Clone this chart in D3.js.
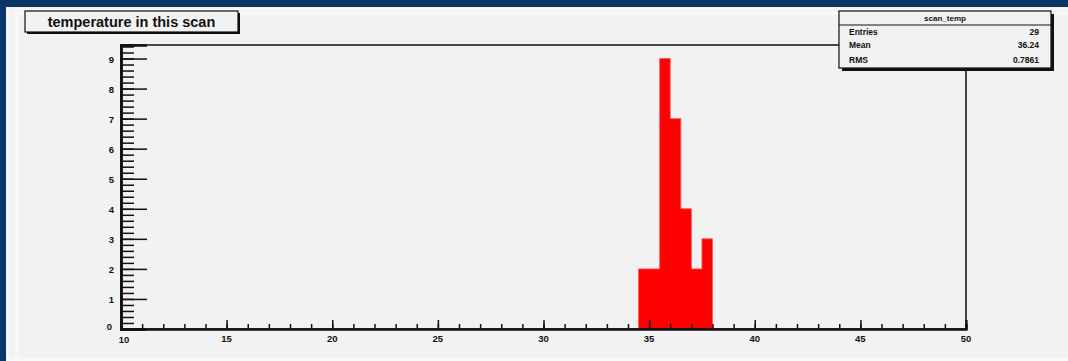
<!DOCTYPE html>
<html><head><meta charset="utf-8">
<script src="https://cdn.jsdelivr.net/npm/d3@7"></script>
<style>
html,body{margin:0;padding:0;background:#f2f2f2;}
svg{display:block;}
text{font-family:"Liberation Sans",Arial,Helvetica,sans-serif;font-weight:bold;fill:#111;}
</style></head>
<body>
<svg id="c" width="1068" height="361"></svg>
<script>
const title = "temperature in this scan";
const histName = "scan_temp";
const binLow = [34.5, 35, 35.5, 36, 36.5, 37, 37.5];
const counts = [2, 2, 9, 7, 4, 2, 3];
const binWidth = 0.5;
const xTicks = [10, 15, 20, 25, 30, 35, 40, 45, 50];
const yTicks = [0, 1, 2, 3, 4, 5, 6, 7, 8, 9];
const statLabels = ["Entries", "Mean", "RMS"];
const statValues = ["29", "36.24", "0.7861"];

const svg = d3.select("#c");
const W = 1068, H = 361;
// background and pad borders
svg.append("rect").attr("width", W).attr("height", H).attr("fill", "#f2f2f2");
svg.append("rect").attr("x", 0).attr("y", 0).attr("width", W).attr("height", 7).attr("fill", "#0b3768");
svg.append("rect").attr("x", 0).attr("y", 0).attr("width", 6).attr("height", H).attr("fill", "#0b3768");
svg.append("rect").attr("x", 6).attr("y", 7).attr("width", 4).attr("height", H).attr("fill", "#f7f7f7");
svg.append("rect").attr("x", 15).attr("y", 12).attr("width", 4).attr("height", H).attr("fill", "#f8f8f8");
svg.append("rect").attr("x", 6).attr("y", 7).attr("width", W).attr("height", 3).attr("fill", "#f7f7f7");
svg.append("rect").attr("x", 19).attr("y", 12).attr("width", W).attr("height", 3).attr("fill", "#f8f8f8");
svg.append("rect").attr("x", 6).attr("y", 358).attr("width", W).attr("height", 3).attr("fill", "#f8f8f8");

const L = 121, R = 966, T = 45, B = 329;
const x = d3.scaleLinear().domain([10, 50]).range([L, R]);
const y = d3.scaleLinear().domain([0, 9.45]).range([B, T]);

// histogram as a single filled step path
const pts = [[x(binLow[0]), y(0)]];
binLow.forEach((d, i) => { pts.push([x(d), y(counts[i])]); pts.push([x(d + binWidth), y(counts[i])]); });
pts.push([x(binLow[binLow.length - 1] + binWidth), y(0)]);
svg.append("path")
  .attr("d", d3.line()(pts) + "Z")
  .attr("fill", "#ff0000").attr("stroke", "#ff5050").attr("stroke-width", 0.8);

// frame
svg.append("rect").attr("x", L).attr("y", T).attr("width", R - L).attr("height", B - T)
  .attr("fill", "none").attr("stroke", "#111").attr("stroke-width", 1.5);

// x axis
const xMinor = d3.range(10, 50.001, 1);
const xAxisMinor = d3.axisTop(x).tickValues(xMinor).tickSize(5).tickFormat("");
const gxm = svg.append("g").attr("transform", `translate(0,${B})`).call(xAxisMinor);
const xAxisMajor = d3.axisTop(x).tickValues(xTicks).tickSize(9).tickFormat("");
const gx = svg.append("g").attr("transform", `translate(0,${B})`).call(xAxisMajor);
[gxm, gx].forEach(g => {
  g.select(".domain").attr("stroke", "#111").attr("stroke-width", 2);
  g.selectAll(".tick line").attr("stroke", "#111").attr("stroke-width", 1.5);
});
svg.append("g").selectAll("text").data(xTicks).join("text")
  .attr("x", d => x(d) + (d === 10 ? 3 : 0))
  .attr("y", d => d === 10 ? 343 : 342)
  .attr("text-anchor", "middle").attr("font-size", 9.5).text(d => d);

// y axis
const yMinor = d3.range(0, 9.45, 0.2).map(v => Math.round(v * 10) / 10);
const yAxisMinor = d3.axisRight(y).tickValues(yMinor).tickSize(13).tickFormat("");
const gym = svg.append("g").attr("transform", `translate(${L},0)`).call(yAxisMinor);
const yAxisMajor = d3.axisRight(y).tickValues(yTicks).tickSize(26).tickFormat("");
const gy = svg.append("g").attr("transform", `translate(${L},0)`).call(yAxisMajor);
[gym, gy].forEach(g => {
  g.select(".domain").attr("stroke", "#111").attr("stroke-width", 2.5);
  g.selectAll(".tick line").attr("stroke", "#111").attr("stroke-width", 1.5);
});
svg.append("g").selectAll("text").data(yTicks).join("text")
  .attr("x", d => d === 0 ? 112 : 114)
  .attr("y", d => y(d) + (d === 0 ? 1 : 4))
  .attr("text-anchor", "end").attr("font-size", 9.5).text(d => d);

// title box
svg.append("rect").attr("x", 27).attr("y", 13).attr("width", 213).attr("height", 21).attr("fill", "#111");
svg.append("rect").attr("x", 25).attr("y", 11).attr("width", 213).attr("height", 21)
  .attr("fill", "#f2f2f2").attr("stroke", "#111").attr("stroke-width", 1.2);
svg.append("text").attr("x", 131.5).attr("y", 27).attr("text-anchor", "middle")
  .attr("font-size", 14.5).text(title);

// stats box
const sx = 839, sy = 11, sw = 212, sh = 57;
svg.append("rect").attr("x", sx + 3).attr("y", sy + 3).attr("width", sw).attr("height", sh).attr("fill", "#111");
svg.append("rect").attr("x", sx).attr("y", sy).attr("width", sw).attr("height", sh)
  .attr("fill", "#f2f2f2").attr("stroke", "#111").attr("stroke-width", 1.2);
svg.append("line").attr("x1", sx).attr("x2", sx + sw).attr("y1", 25).attr("y2", 25)
  .attr("stroke", "#111").attr("stroke-width", 1.2);
svg.append("text").attr("x", sx + sw / 2).attr("y", 21).attr("text-anchor", "middle")
  .attr("font-size", 8).text(histName);
const rowY = [35, 48, 63];
svg.append("g").selectAll("text").data(statLabels).join("text")
  .attr("x", 849).attr("y", (d, i) => rowY[i]).attr("font-size", 8.5).text(d => d);
svg.append("g").selectAll("text").data(statValues).join("text")
  .attr("x", 1039).attr("y", (d, i) => rowY[i]).attr("text-anchor", "end").attr("font-size", 8.5).text(d => d);
</script>
</body></html>
